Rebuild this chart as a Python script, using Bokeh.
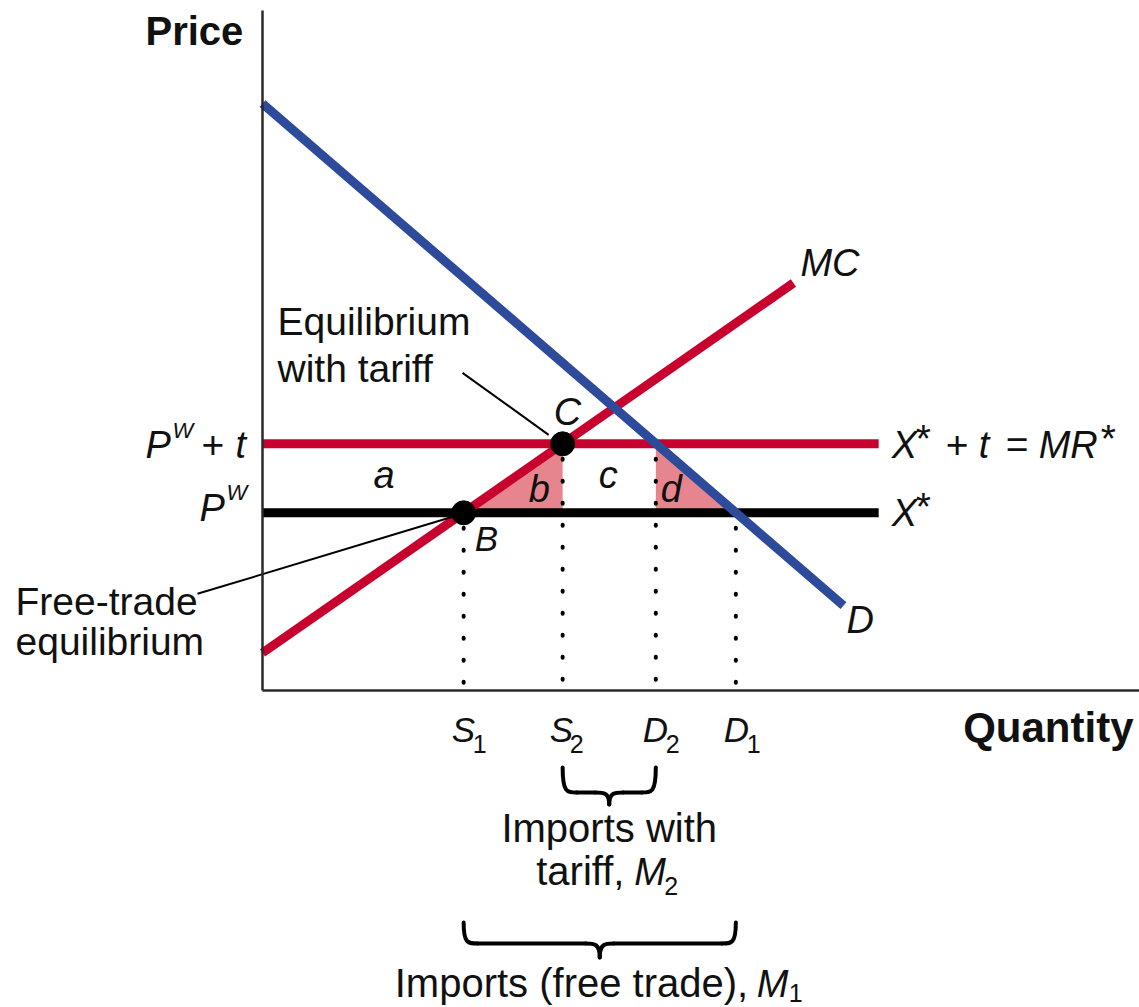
from bokeh.plotting import figure
from bokeh.models import Range1d, ColumnDataSource
from bokeh.embed import file_html
from bokeh.resources import INLINE
from bokeh.core.properties import value

# ---------------- data ----------------
world_price = 5.15          # P^W
tariff = 2.0                # t
quantity_labels = ["S1", "S2", "D2", "D1"]
quantity_values = [5.83, 8.70, 11.40, 13.72]
mc_q = [0.0, 15.39]
mc_p = [1.09, 11.81]
demand_q = [0.0, 16.84]
demand_p = [17.01, 2.46]
price_line_q = [0.0, 17.86]
axis_q_max = 25.42
axis_p_max = 19.71

# ---------------- styling / layout ----------------
K = 34.5                       # screen px per data unit
W, H = 1139, 1007
ORX, ORY = 262, 690            # origin position inside the figure (px)
RED = "#c8002e"
BLUE = "#2d4a9b"
PINK = "#e7858f"
INK = "#111111"
FONT = "Liberation Sans"
BASELINE_FIX = 0.36            # empirical shift of the rendered baseline (x font size)

Pw = world_price
Pwt = world_price + tariff
S1, S2, D2, D1 = quantity_values


def qx(q, dpx=0.0):
    return q + dpx / K


def py(p, dpx=0.0):
    # dpx > 0 moves down on screen
    return p - dpx / K


p = figure(width=W, height=H,
           x_range=Range1d(-ORX / K, (W - ORX) / K),
           y_range=Range1d(-(H - ORY) / K, ORY / K),
           output_backend="svg", toolbar_location=None, tools="",
           x_axis_type=None, y_axis_type=None, min_border=0)
p.outline_line_color = None
p.background_fill_color = "white"
p.border_fill_color = "white"

# shaded deadweight-loss triangles b and d
p.patches(xs=[[S1, S2, S2], [D2, D2, D1]],
          ys=[[Pw, Pwt, Pw], [Pwt, Pw, Pw]],
          fill_color=PINK, line_color=None)

# dotted drop lines
p.segment(x0=quantity_values, y0=[Pw, Pwt, Pwt, Pw],
          x1=quantity_values, y1=[0, 0, 0, 0],
          line_color="black", line_width=4, line_dash="1 21",
          line_dash_offset=7, line_cap="round")

# price lines
p.line(price_line_q, [Pw, Pw], line_color="black", line_width=9)
p.line(price_line_q, [Pwt, Pwt], line_color=RED, line_width=9)
# supply (MC) and demand
p.line(mc_q, mc_p, line_color=RED, line_width=9)
p.line(demand_q, demand_p, line_color=BLUE, line_width=9)

# leader lines
p.segment(x0=[qx(0, 200), qx(0, -65)], y0=[py(Pwt, -71), py(Pw, 81)],
          x1=[qx(S2, -14), qx(S1, -11)], y1=[py(Pwt, -9), py(Pw, 4)],
          line_color="black", line_width=2)

# equilibrium dots
p.scatter(x=[S1, S2], y=[Pw, Pwt], size=24, color="black")

# axes
p.line([0, 0], [0, axis_p_max], line_color="#2a2a2a", line_width=2.5)
p.line([0, axis_q_max], [0, 0], line_color="#2a2a2a", line_width=2.5)


# braces
def brace(xl, xr, top, bar, tip, r=14.0):
    xm = (xl + xr) / 2
    rr = r / K
    segs = []
    segs.append((xl, top, xl + rr, bar, xl, bar, xl + 0.3 * rr, bar))
    segs.append((xm - rr, bar, xm, tip, xm - 0.4 * rr, bar, xm, bar))
    segs.append((xm + rr, bar, xm, tip, xm + 0.4 * rr, bar, xm, bar))
    segs.append((xr, top, xr - rr, bar, xr, bar, xr - 0.3 * rr, bar))
    lines = [(xl + rr, bar, xm - rr, bar), (xm + rr, bar, xr - rr, bar)]
    return segs, lines


all_segs, all_lines = [], []
for (a, b, t_, b_, tp) in [(S2, D2, py(0, 77), py(0, 102), py(0, 114)),
                          (S1, D1, py(0, 232), py(0, 253), py(0, 267))]:
    s, l = brace(a, b, t_, b_, tp)
    all_segs += s
    all_lines += l

p.bezier(x0=[s[0] for s in all_segs], y0=[s[1] for s in all_segs],
         x1=[s[2] for s in all_segs], y1=[s[3] for s in all_segs],
         cx0=[s[4] for s in all_segs], cy0=[s[5] for s in all_segs],
         cx1=[s[6] for s in all_segs], cy1=[s[7] for s in all_segs],
         line_color="black", line_width=4, line_cap="round")
p.segment(x0=[l[0] for l in all_lines], y0=[l[1] for l in all_lines],
          x1=[l[2] for l in all_lines], y1=[l[3] for l in all_lines],
          line_color="black", line_width=4, line_cap="round")


def add_text(xs, ys, texts, size, style="normal", align="left"):
    shift = BASELINE_FIX * size / K
    src = ColumnDataSource(dict(x=xs, y=[y + shift for y in ys], text=texts))
    p.text(x="x", y="y", text="text", source=src,
           text_font=value(FONT), text_font_size=f"{size}px",
           text_font_style=style, text_align=align,
           text_baseline="alphabetic", text_color=INK)


end_q = price_line_q[1]
mid1 = (S2 + D2) / 2
mid2 = (S1 + D1) / 2

# axis titles
add_text([qx(0, -117)], [py(axis_p_max, 35)], ["Price"], 40, "bold")
add_text([qx(0, 871)], [py(0, 52)], ["Quantity"], 42, "bold", "right")

# regular text
add_text([qx(0, 15), qx(0, 15), qx(0, -247), qx(0, -247)],
         [py(Pwt, -108), py(Pwt, -61), py(Pw, 103), py(Pw, 143)],
         ["Equilibrium", "with tariff", "Free-trade", "equilibrium"], 39)
add_text([qx(mid1, -73), qx(mid2, -205)], [py(0, 195), py(0, 307)],
         ["tariff,", "Imports (free trade),"], 40)
add_text([mid1], [py(0, 152)], ["Imports with"], 40, "normal", "center")

# symbols + and =
add_text([qx(0, -61), qx(end_q, 67), qx(end_q, 127)],
         [py(Pwt, 15), py(Pwt, 15), py(Pwt, 15)], ["+", "+", "="], 39)

# asterisks
add_text([qx(end_q, 37), qx(end_q, 222), qx(end_q, 37)],
         [py(Pwt, 9), py(Pwt, 9), py(Pw, 8)], ["*", "*", "*"], 39)

# italic letters (large)
add_text([qx(0, -117), qx(0, -27), qx(0, -63),
          qx(0, 111), qx(S2, -34), qx(S2, 36), qx(D2, 5),
          qx(S2, -9), qx(mc_q[1], 7), qx(demand_q[1], 3),
          qx(end_q, 13), qx(end_q, 100), qx(end_q, 160), qx(end_q, 13),
          qx(mid1, 25), qx(mid2, 157)],
         [py(Pwt, 15), py(Pwt, 15), py(Pw, 9),
          py(Pw, -24), py(Pw, -10), py(Pw, -24), py(Pw, -10),
          py(Pwt, -18), py(mc_p[1], -6), py(demand_p[1], 28),
          py(Pwt, 15), py(Pwt, 15), py(Pwt, 15), py(Pw, 14),
          py(0, 195), py(0, 307)],
         ["P", "t", "P", "a", "b", "c", "d", "C", "MC", "D",
          "X", "t", "MR", "X", "M", "M"], 38, "italic")

# italic letters (axis labels, B)
add_text([qx(S1, 11), qx(S1, -12), qx(S2, -13), qx(D2, -13), qx(D1, -12)],
         [py(Pw, 38), py(0, 52), py(0, 52), py(0, 52), py(0, 52)],
         ["B", quantity_labels[0][0], quantity_labels[1][0],
          quantity_labels[2][0], quantity_labels[3][0]], 35, "italic")

# superscript W
add_text([qx(0, -90), qx(0, -36)], [py(Pwt, -5), py(Pw, -12)], ["W", "W"], 22, "italic")

# subscripts
add_text([qx(S1, 9), qx(S2, 7), qx(D2, 10), qx(D1, 11), qx(mid1, 55), qx(mid2, 189)],
         [py(0, 62), py(0, 62), py(0, 62), py(0, 62), py(0, 204), py(0, 311)],
         [quantity_labels[0][1], quantity_labels[1][1], quantity_labels[2][1],
          quantity_labels[3][1], "2", "1"], 25)

open("out.html", "w").write(file_html(p, INLINE))
